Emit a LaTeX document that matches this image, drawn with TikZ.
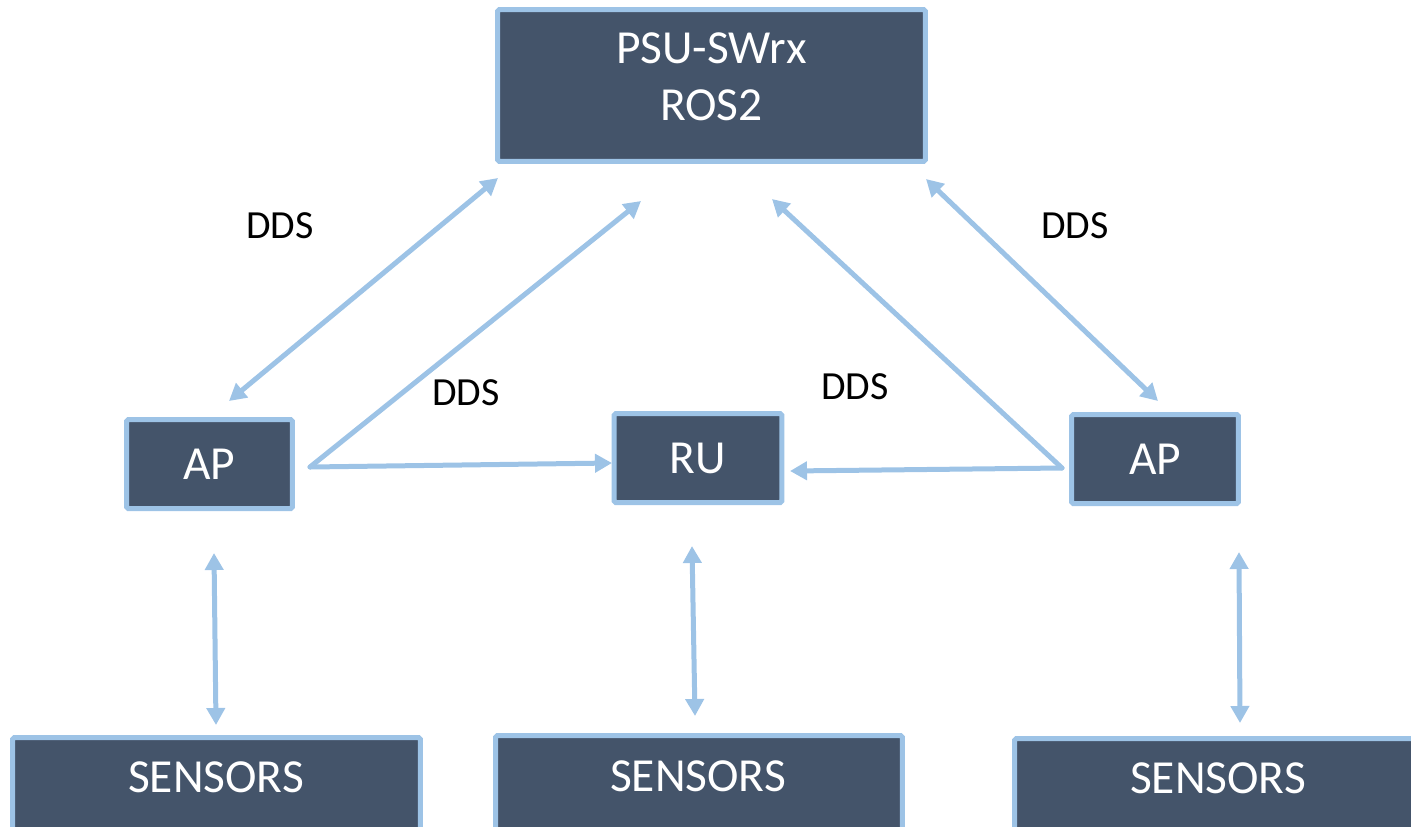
\documentclass[tikz,border=0pt]{standalone}
\usepackage{fontspec}
\setmainfont{Carlito}
\usetikzlibrary{arrows.meta,calc}
\definecolor{boxfill}{HTML}{44546A}
\definecolor{linkblue}{HTML}{9DC3E6}

\begin{document}
\begin{tikzpicture}[x=0.02cm,y=-0.02cm,
  unit box/.style={draw=linkblue, fill=boxfill, line width=0.1cm, inner sep=0pt,
    rounded corners=1pt},
  unit text/.style={text=white, inner sep=0pt, align=center,
    font=\fontsize{27}{32.3}\selectfont},
  link/.style={draw=linkblue, line width=0.1cm, line cap=round,
    -{Triangle[length=0.34cm,width=0.36cm]}},
  duplex/.style={link,
    {Triangle[length=0.34cm,width=0.36cm]}-{Triangle[length=0.34cm,width=0.36cm]}},
  tag/.style={text=black, inner sep=0pt, font=\fontsize{22.7}{27}\selectfont}]

\clip (0,0) rectangle (1411,826);

% controller
\node[unit box, minimum width=8.56cm, minimum height=3.04cm] (psu) at (711.5,85.5) {};
\node[unit text] (psutext) at ($(psu.center)+(0,-9)$) {PSU-SWrx\\ROS2};

% access points and radio unit
\node[unit box, unit text, minimum width=3.32cm, minimum height=1.78cm] (apl) at (209.5,464) {AP};
\node[unit box, unit text, minimum width=3.36cm, minimum height=1.78cm] (ru) at (698,458) {RU};
\node[unit box, unit text, minimum width=3.34cm, minimum height=1.78cm] (apr) at (1155,459) {AP};

% sensor banks
\node[unit box, minimum width=8.16cm, minimum height=2cm] (senl) at (216.5,787.5) {};
\node[unit text] (senltext) at (216,777) {SENSORS};
\node[unit box, minimum width=8.14cm, minimum height=2cm] (senm) at (699,785.5) {};
\node[unit text] (senmtext) at (698,776) {SENSORS};
\node[unit box, minimum width=8.4cm, minimum height=2cm] (senr) at (1224.5,788.5) {};
\node[unit text] (senrtext) at (1218,778) {SENSORS};

% connector end points
\coordinate (psuA) at (498,178);
\coordinate (aplA) at (229,401);
\coordinate (aplJ) at (310,467);
\coordinate (psuB) at (641,201);
\coordinate (ruL)  at (612,463);
\coordinate (aprJ) at (1062,468);
\coordinate (psuC) at (772,199);
\coordinate (ruR)  at (790,471);
\coordinate (psuD) at (926,179);
\coordinate (aprA) at (1158,401);
\coordinate (aplS) at (214,553);
\coordinate (senlA) at (216,725);
\coordinate (ruS)  at (692,546);
\coordinate (senmA) at (695,716);
\coordinate (aprS) at (1239,552);
\coordinate (senrA) at (1240,723);

% DDS links
\draw[duplex] (aplA) -- (psuA);
\draw[link] (aplJ) -- (psuB);
\draw[link] (aplJ) -- (ruL);
\draw[link] (aprJ) -- (psuC);
\draw[link] (aprJ) -- (ruR);
\draw[duplex] (psuD) -- (aprA);

% sensor links
\draw[duplex] (aplS) -- (senlA);
\draw[duplex] (ruS) -- (senmA);
\draw[duplex] (aprS) -- (senrA);

% labels
\node[tag] (ddsa) at (280,226) {DDS};
\node[tag] (ddsb) at (466,393) {DDS};
\node[tag] (ddsc) at (855,387) {DDS};
\node[tag] (ddsd) at (1075,226) {DDS};
\end{tikzpicture}
\end{document}
